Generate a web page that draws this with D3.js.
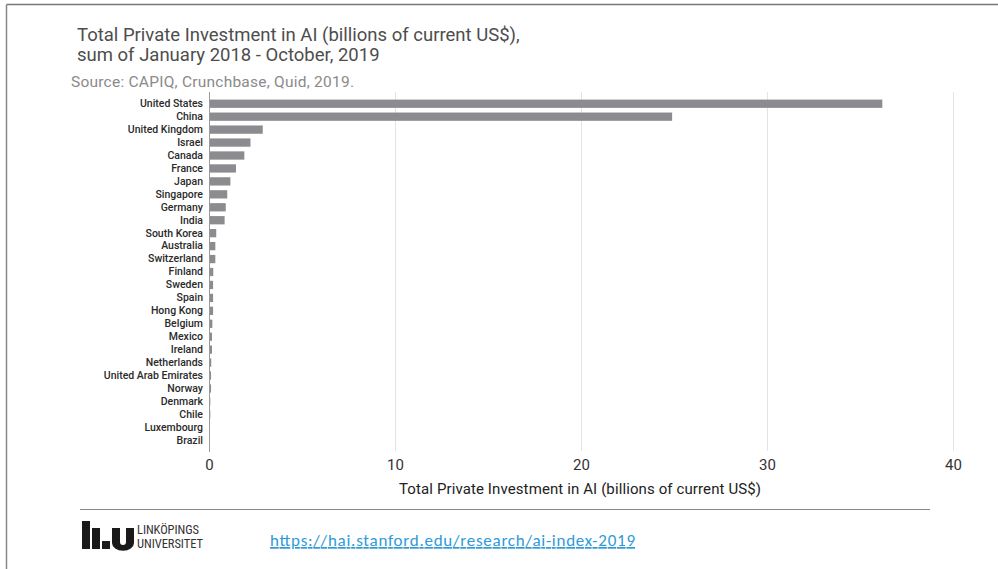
<!DOCTYPE html>
<html>
<head>
<meta charset="utf-8">
<script src="https://cdn.jsdelivr.net/npm/d3@7"></script>
<style>
  html, body { margin: 0; padding: 0; background: #fff; }
  svg { display: block; }
</style>
</head>
<body>
<svg id="chart" width="998" height="569"></svg>
<script>
// Total private AI investment by country, Jan 2018 - Oct 2019 (billions of current US$)
const countries = [
  "United States", "China", "United Kingdom", "Israel", "Canada", "France", "Japan",
  "Singapore", "Germany", "India", "South Korea", "Australia", "Switzerland", "Finland",
  "Sweden", "Spain", "Hong Kong", "Belgium", "Mexico", "Ireland", "Netherlands",
  "United Arab Emirates", "Norway", "Denmark", "Chile", "Luxembourg", "Brazil"
];
const investment = [
  36.2, 24.9, 2.89, 2.23, 1.90, 1.45, 1.15,
  0.98, 0.90, 0.84, 0.39, 0.34, 0.34, 0.23,
  0.22, 0.22, 0.22, 0.18, 0.16, 0.16, 0.12,
  0.11, 0.11, 0.07, 0.07, 0.05, 0.05
];
const xTicks = [0, 10, 20, 30, 40];

const titleLines = [
  "Total Private Investment in AI (billions of current US$),",
  "sum of January 2018 - October, 2019"
];
const sourceText = "Source: CAPIQ, Crunchbase, Quid, 2019.";
const axisTitle = "Total Private Investment in AI (billions of current US$)";
const linkText = "https://hai.stanford.edu/research/ai-index-2019";

const svg = d3.select("#chart");

// slide frame (top and left edges)
svg.append("line").attr("x1", 6.5).attr("x2", 998).attr("y1", 4.5).attr("y2", 4.5)
  .attr("stroke", "#777").attr("stroke-width", 1.5);
svg.append("line").attr("x1", 6.5).attr("x2", 6.5).attr("y1", 4.5).attr("y2", 569)
  .attr("stroke", "#888").attr("stroke-width", 1.5);

// titles
const title = svg.append("text")
  .attr("font-family", "Roboto, 'Open Sans', sans-serif")
  .attr("font-size", 18.5).attr("fill", "#4d4d4d");
titleLines.forEach((t, i) => {
  title.append("tspan").attr("x", 77).attr("y", 41 + i * 20).text(t);
});
svg.append("text").attr("x", 71).attr("y", 87)
  .attr("font-family", "Roboto, 'Open Sans', sans-serif")
  .attr("font-size", 15.5).attr("fill", "#8a8a8a").attr("textLength", 283).text(sourceText);

// scales
const x = d3.scaleLinear().domain([0, 40]).range([209, 953]);
const y = d3.scaleBand().domain(countries).range([97, 447]).paddingInner(0.36).paddingOuter(0.2);

// vertical gridlines
svg.append("g").selectAll("line").data(xTicks.filter(d => d > 0)).join("line")
  .attr("x1", d => x(d) + 0.5).attr("x2", d => x(d) + 0.5)
  .attr("y1", 92).attr("y2", 451)
  .attr("stroke", "#e4e4e4").attr("stroke-width", 1);

// bars
svg.append("g").selectAll("rect").data(countries).join("rect")
  .attr("x", x(0))
  .attr("y", (d) => y(d))
  .attr("width", (d, i) => Math.max(0.8, x(investment[i]) - x(0)))
  .attr("height", y.bandwidth())
  .attr("fill", "#8c8c90");

// category axis
const yAxis = svg.append("g").attr("transform", `translate(${x(0)},0)`)
  .call(d3.axisLeft(y).tickSize(0).tickPadding(6));
yAxis.select(".domain").remove();
yAxis.selectAll("text")
  .attr("font-family", "Roboto, 'Open Sans', sans-serif")
  .attr("font-size", 10.5).attr("font-weight", 500).attr("fill", "#2a2a2a");
svg.append("line").attr("x1", x(0) + 0.5).attr("x2", x(0) + 0.5)
  .attr("y1", 92).attr("y2", 452).attr("stroke", "#999").attr("stroke-width", 1);

// value axis
const xAxis = svg.append("g").attr("transform", "translate(0,452)")
  .call(d3.axisBottom(x).tickValues(xTicks).tickSize(0).tickPadding(7).tickFormat(d3.format("d")));
xAxis.select(".domain").remove();
xAxis.selectAll("text")
  .attr("font-family", "Roboto, 'Open Sans', sans-serif")
  .attr("font-size", 15).attr("fill", "#333");

svg.append("text").attr("x", 580).attr("y", 494).attr("text-anchor", "middle")
  .attr("font-family", "Roboto, 'Open Sans', sans-serif")
  .attr("font-size", 15).attr("fill", "#222").attr("textLength", 362).text(axisTitle);

// footer rule
svg.append("line").attr("x1", 80).attr("x2", 930).attr("y1", 509.5).attr("y2", 509.5)
  .attr("stroke", "#888").attr("stroke-width", 1.2);

// university mark
const logo = svg.append("g").attr("transform", "translate(82,521)");
const blocks = [
  [0, 0, 8, 28], [10, 7, 8, 21], [20, 20, 8, 8]
];
logo.selectAll("rect.b").data(blocks).join("rect")
  .attr("x", d => d[0]).attr("y", d => d[1]).attr("width", d => d[2]).attr("height", d => d[3])
  .attr("fill", "#1a1a1a");
logo.append("path")
  .attr("d", "M30,7 h8 v14 a3,3 0 0 0 6,0 v-14 h8 v15 a10,7 0 0 1 -22,0 z")
  .attr("fill", "#1a1a1a");
logo.append("text").attr("x", 55).attr("y", 13)
  .attr("font-family", "'Liberation Sans Narrow', 'Roboto Condensed', Roboto, sans-serif")
  .attr("font-size", 12.5).attr("fill", "#333").attr("textLength", 62).text("LINKÖPINGS");
logo.append("text").attr("x", 55).attr("y", 27)
  .attr("font-family", "'Liberation Sans Narrow', 'Roboto Condensed', Roboto, sans-serif")
  .attr("font-size", 12.5).attr("fill", "#333").attr("textLength", 66).text("UNIVERSITET");

// reference link
svg.append("text").attr("x", 270).attr("y", 546)
  .attr("font-family", "Carlito, 'Open Sans', 'Liberation Sans', sans-serif")
  .attr("font-size", 17).attr("fill", "#2e9ad8")
  .attr("text-decoration", "underline").attr("textLength", 365)
  .text(linkText);
</script>
</body>
</html>
